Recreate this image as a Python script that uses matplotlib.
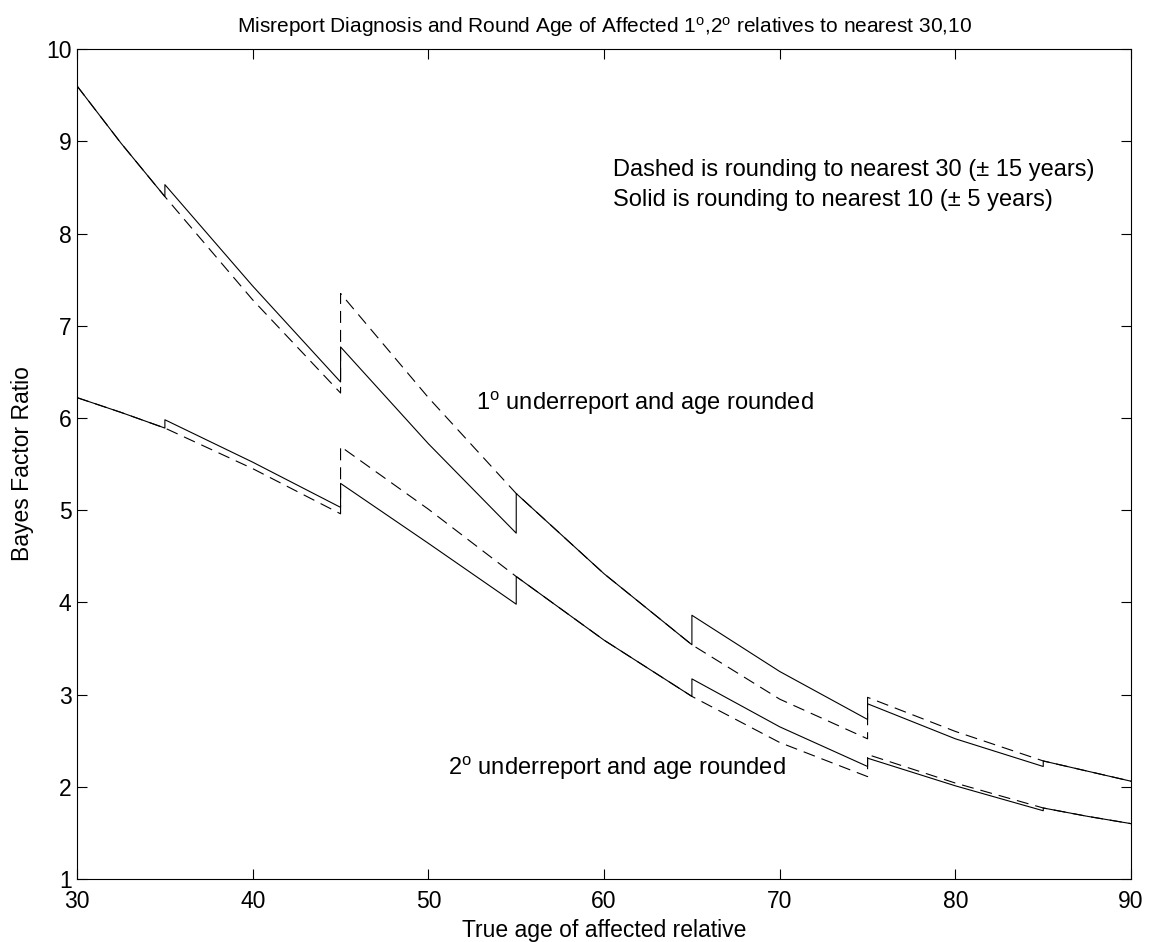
import matplotlib
matplotlib.use("Agg")
import matplotlib.pyplot as plt

plt.rcParams['font.family'] = ['Liberation Sans', 'DejaVu Sans']
plt.rcParams['mathtext.fontset'] = 'custom'
plt.rcParams['mathtext.rm'] = 'Liberation Sans'
plt.rcParams['mathtext.it'] = 'Liberation Sans'

# 1st degree relatives, rounding to nearest 10 (solid)
x_first_10 = [30, 32.5, 35, 35, 40, 45, 45, 50, 55, 55, 60, 65, 65, 70, 75, 75, 80, 85, 85, 87.5, 90]
y_first_10 = [9.60, 8.98, 8.40, 8.53, 7.43, 6.39, 6.77, 5.72, 4.75, 5.18, 4.31, 3.54, 3.86, 3.25,
              2.73, 2.90, 2.52, 2.22, 2.28, 2.17, 2.06]

# 1st degree relatives, rounding to nearest 30 (dashed)
x_first_30 = [30, 32.5, 35, 40, 45, 45, 50, 55, 60, 65, 70, 75, 75, 80, 85, 87.5, 90]
y_first_30 = [9.60, 8.98, 8.40, 7.28, 6.27, 7.35, 6.22, 5.18, 4.31, 3.54, 2.95, 2.52, 2.97,
              2.60, 2.28, 2.17, 2.06]

# 2nd degree relatives, rounding to nearest 10 (solid)
x_second_10 = [30, 32.5, 35, 35, 40, 45, 45, 50, 55, 55, 60, 65, 65, 70, 75, 75, 80, 85, 85, 87.5, 90]
y_second_10 = [6.22, 6.06, 5.89, 5.98, 5.52, 5.03, 5.29, 4.64, 3.98, 4.28, 3.59, 2.98, 3.17, 2.65,
               2.22, 2.31, 2.01, 1.74, 1.77, 1.68, 1.60]

# 2nd degree relatives, rounding to nearest 30 (dashed)
x_second_30 = [30, 32.5, 35, 40, 45, 45, 50, 55, 60, 65, 70, 75, 75, 80, 85, 87.5, 90]
y_second_30 = [6.22, 6.06, 5.89, 5.45, 4.96, 5.69, 5.01, 4.28, 3.59, 2.98, 2.48, 2.11, 2.35,
               2.04, 1.77, 1.68, 1.60]

fig = plt.figure(figsize=(11.57, 9.42), dpi=100)
ax = fig.add_axes([0.0666, 0.0669, 0.911, 0.881])

lw = 0.8
dash = (10.8, 6.3)
ax.plot(x_first_10, y_first_10, color='black', lw=lw)
ax.plot(x_first_30, y_first_30, color='black', lw=lw, dashes=dash)
ax.plot(x_second_10, y_second_10, color='black', lw=lw)
ax.plot(x_second_30, y_second_30, color='black', lw=lw, dashes=dash)

ax.set_xlim(30, 90)
ax.set_ylim(1, 10)
ax.set_xticks(range(30, 91, 10))
ax.set_yticks(range(1, 11))
ax.tick_params(direction='in', length=7, width=0.8, top=True, right=True,
               labelsize=16.5)
ax.tick_params(axis='x', pad=8)
ax.tick_params(axis='y', pad=4)
for s in ax.spines.values():
    s.set_linewidth(0.8)

fs = 16.5
ax.set_title(r'Misreport Diagnosis and Round Age of Affected 1$^{\rm o}$,2$^{\rm o}$ relatives to nearest 30,10',
             fontsize=15, pad=12)
ax.set_xlabel('True age of affected relative', fontsize=fs, labelpad=4)
ax.set_ylabel('Bayes Factor Ratio', fontsize=fs, labelpad=9)

fa = 17
ax.text(60.5, 8.69, 'Dashed is rounding to nearest 30 (\u00b1 15 years)', fontsize=fa, va='center')
ax.text(60.5, 8.36, 'Solid is rounding to nearest 10 (\u00b1 5 years)', fontsize=fa, va='center')
ax.text(52.7, 6.16, r'1$^{\rm o}$ underreport and age rounded', fontsize=fa, va='center')
ax.text(51.1, 2.20, r'2$^{\rm o}$ underreport and age rounded', fontsize=fa, va='center')

fig.savefig('out.png', dpi=100)
